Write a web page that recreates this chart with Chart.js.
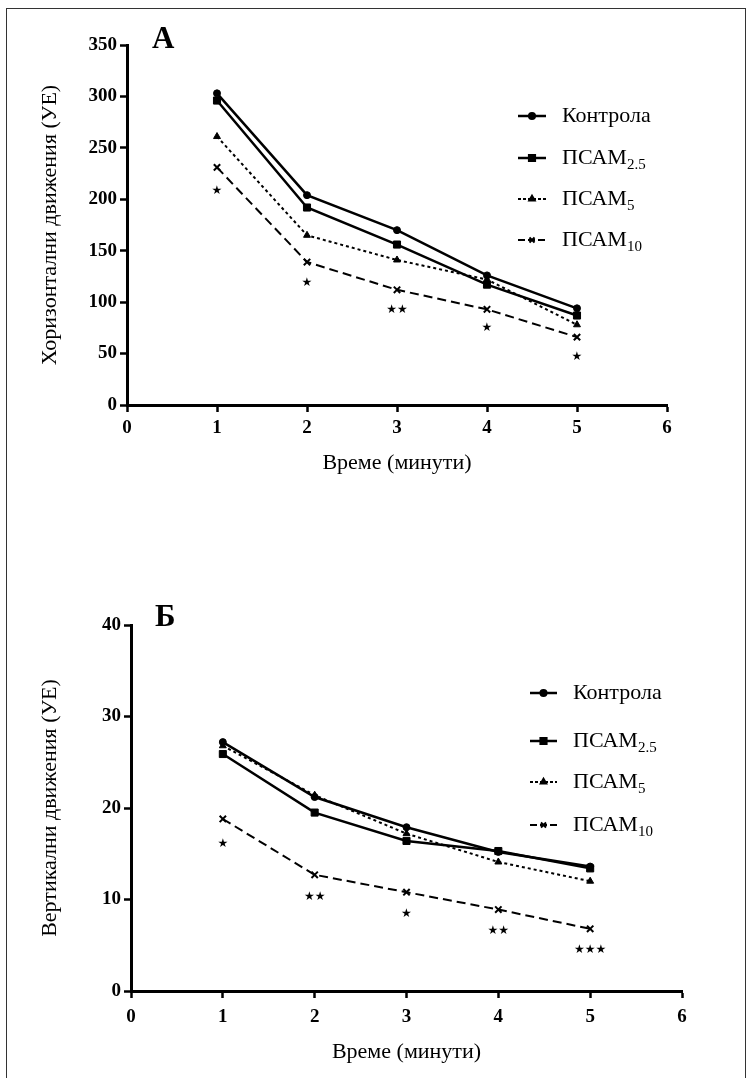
<!DOCTYPE html>
<html>
<head>
<meta charset="utf-8">
<script src="https://cdn.jsdelivr.net/npm/chart.js@4/dist/chart.umd.min.js"></script>
<style>
  body { margin: 0; background: #fff; width: 751px; height: 1078px; overflow: hidden; position: relative; }
  #frame { position: absolute; left: 6px; top: 8px; width: 738px; height: 1090px; border: 1px solid #333; }
  canvas { position: absolute; left: 0; }
  .panel { position: absolute; font-family: "Liberation Serif", serif; font-weight: bold; font-size: 31px; line-height: 1; color: #000; }
</style>
</head>
<body>
<div id="frame"></div>
<canvas id="chartA" width="751" height="480" style="top:0"></canvas>
<canvas id="chartB" width="751" height="518" style="top:560px"></canvas>
<div class="panel" style="left:152px; top:22px">А</div>
<div class="panel" style="left:155px; top:600px">Б</div>
<script>
// Данни
var minutes = [1, 2, 3, 4, 5];
var seriesNames = ['Контрола', 'ПСАМ', 'ПСАМ', 'ПСАМ'];
var seriesSubs = ['', '2.5', '5', '10'];

// А - хоризонтални движения
var horKontrola = [303, 204, 170, 126, 94];
var horPsam25 = [296, 192, 156, 117, 87];
var horPsam5 = [261, 165, 141, 122, 78];
var horPsam10 = [231, 139, 112, 93, 66];
var horStarY = [208, 119, 92, 75, 47];
var horStars = ['★', '★', '★★', '★', '★'];

// Б - вертикални движения
var verKontrola = [27.2, 21.2, 17.9, 15.2, 13.6];
var verPsam25 = [25.9, 19.5, 16.4, 15.3, 13.4];
var verPsam5 = [26.8, 21.4, 17.2, 14.1, 12.0];
var verPsam10 = [18.8, 12.7, 10.8, 8.9, 6.8];
var verStarY = [16.1, 10.3, 8.4, 6.6, 4.5];
var verStars = ['★', '★★', '★', '★★', '★★★'];

var serif = 'Liberation Serif';

function pts(vals) {
  return vals.map(function (v, i) { return { x: minutes[i], y: v }; });
}

function makeDatasets(a, b, c, d) {
  return [
    { label: seriesNames[0], data: pts(a), borderColor: '#000', backgroundColor: '#000', borderWidth: 2.5,
      pointStyle: 'circle', pointRadius: 3.5, pointBorderWidth: 1 },
    { label: seriesNames[1], data: pts(b), borderColor: '#000', backgroundColor: '#000', borderWidth: 2.5,
      pointStyle: 'rect', pointRadius: 5, pointBorderWidth: 1 },
    { label: seriesNames[2], data: pts(c), borderColor: '#000', backgroundColor: '#000', borderWidth: 2,
      borderDash: [3, 3], pointStyle: 'triangle', pointRadius: 4, pointBorderWidth: 1 },
    { label: seriesNames[3], data: pts(d), borderColor: '#000', backgroundColor: '#000', borderWidth: 2,
      borderDash: [9, 5], pointStyle: 'crossRot', pointRadius: 4.5, pointBorderWidth: 2 }
  ];
}

// легенда със индекси
var subLegend = {
  id: 'subLegend',
  afterDraw: function (chart, args, opts) {
    var ctx = chart.ctx;
    chart.data.datasets.forEach(function (ds, i) {
      var y = opts.rows[i];
      ctx.save();
      ctx.strokeStyle = '#000';
      ctx.lineWidth = ds.borderWidth;
      ctx.setLineDash(ds.borderDash ? [3, 2] : []);
      if (i === 3) ctx.setLineDash([7, 3]);
      ctx.beginPath();
      ctx.moveTo(opts.x1, y);
      ctx.lineTo(opts.x2, y);
      ctx.stroke();
      ctx.setLineDash([]);
      ctx.fillStyle = '#000';
      Chart.helpers.drawPoint(ctx, {
        pointStyle: ds.pointStyle, radius: ds.pointRadius * 0.8, borderWidth: ds.pointBorderWidth, rotation: 0
      }, (opts.x1 + opts.x2) / 2, y);
      ctx.font = '22px "' + serif + '"';
      ctx.textBaseline = 'middle';
      ctx.fillText(seriesNames[i], opts.tx, y);
      if (seriesSubs[i]) {
        var w = ctx.measureText(seriesNames[i]).width;
        ctx.font = '15px "' + serif + '"';
        ctx.fillText(seriesSubs[i], opts.tx + w, y + 7);
      }
      ctx.restore();
    });
  }
};

// звездички за значимост
var starMarks = {
  id: 'starMarks',
  afterDatasetsDraw: function (chart, args, opts) {
    var ctx = chart.ctx;
    var xs = chart.scales.x, ys = chart.scales.y;
    ctx.save();
    ctx.fillStyle = '#000';
    ctx.font = '12px "DejaVu Sans"';
    ctx.textAlign = 'center';
    ctx.textBaseline = 'middle';
    opts.values.forEach(function (v, i) {
      ctx.fillText(opts.labels[i], xs.getPixelForValue(minutes[i]), ys.getPixelForValue(v));
    });
    ctx.restore();
  }
};

function axisCfg(min, max, step, title, fitSize, titlePad, tickPad, isY) {
  return {
    type: 'linear', min: min, max: max,
    ticks: { stepSize: step, color: '#000', padding: tickPad, font: { family: serif, size: 19, weight: 'bold' } },
    grid: { drawOnChartArea: false, drawTicks: true, tickLength: 7, tickWidth: 2.5, tickColor: '#000', color: '#000' },
    border: { display: true, color: '#000', width: 3 },
    title: { display: true, text: title, color: '#000', font: { family: serif, size: 22 }, padding: titlePad },
    afterFit: function (s) { if (isY) s.width = fitSize; else s.height = fitSize; }
  };
}

function makeChart(id, sets, yMax, yStep, yTitle, pad, yW, xH, xPad, xTickPad, legendOpts, starOpts) {
  return new Chart(document.getElementById(id), {
    type: 'line',
    data: { datasets: sets },
    options: {
      responsive: false,
      animation: false,
      devicePixelRatio: 1,
      layout: { padding: pad },
      scales: {
        x: axisCfg(0, 6, 1, 'Време (минути)', xH, { top: 0, bottom: xPad }, xTickPad, false),
        y: axisCfg(0, yMax, yStep, yTitle, yW, { top: 37, bottom: 0 }, 3, true)
      },
      plugins: {
        legend: { display: false },
        tooltip: { enabled: false },
        subLegend: legendOpts,
        starMarks: starOpts
      }
    },
    plugins: [subLegend, starMarks]
  });
}

makeChart('chartA', makeDatasets(horKontrola, horPsam25, horPsam5, horPsam10), 350, 50,
  'Хоризонтални движения (УЕ)', { top: 45, right: 84, left: 0, bottom: 0 }, 127, 75, 4, 5,
  { x1: 518, x2: 546, tx: 562, rows: [116, 158, 199, 240] },
  { values: horStarY, labels: horStars });

makeChart('chartB', makeDatasets(verKontrola, verPsam25, verPsam5, verPsam10), 40, 10,
  'Вертикални движения (УЕ)', { top: 65, right: 69, left: 0, bottom: 0 }, 131, 87, 13, 8,
  { x1: 530, x2: 557, tx: 573, rows: [133, 181, 222, 265] },
  { values: verStarY, labels: verStars });
</script>
</body>
</html>
